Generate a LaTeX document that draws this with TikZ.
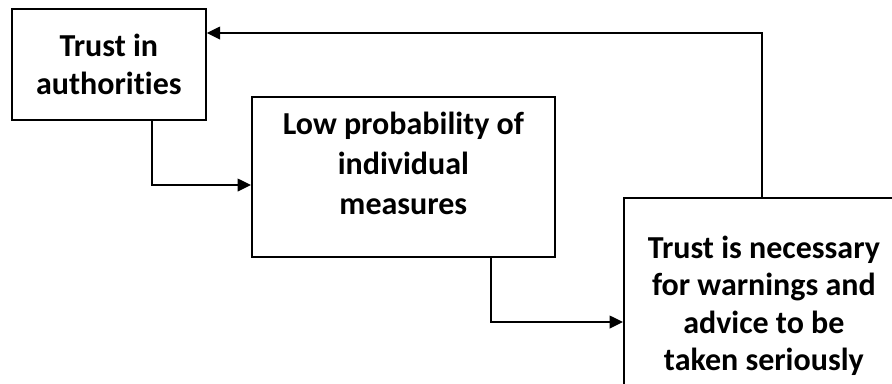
\documentclass[tikz,border=0pt]{standalone}
\usepackage{fontspec}
\setmainfont{Carlito}[Ligatures=NoCommon]
\usetikzlibrary{arrows.meta,positioning}

\begin{document}
\begin{tikzpicture}[x=0.75pt,y=-0.75pt,
            box/.style={draw,line width=1.3pt,anchor=north west,align=center,inner sep=0pt},
            every node/.style={font=\bfseries\fontsize{24}{28}\selectfont},
            to/.style={-{Triangle[length=10pt,width=9.5pt]},line width=1.1pt}
  ]
  \clip (0,0) rectangle (892,383);

  \node[box, minimum width=194*0.75pt, minimum height=111*0.75pt] (auth) at (11,8) {Trust in\\authorities};
  \node[box, minimum width=303*0.75pt, minimum height=160*0.75pt] (lowprob) at (251,96) {Low probability of\\[2pt]individual\\[2pt]measures\\[-8pt]};
  \node[box, minimum width=280*0.75pt, minimum height=216*0.75pt] (trust) at (623,197) {Trust is necessary\\for warnings and\\advice to be\\taken seriously};

  \coordinate (k1) at (152,185);
  \coordinate (k2) at (491,322);
  \coordinate (k3) at (762,33);

  \draw[to] (auth.south -| k1) |- (lowprob.west |- k1);
  \draw[to] (lowprob.south -| k2) |- (trust.west |- k2);
  \draw[to] (trust.north -| k3) |- (auth.east |- k3);

\end{tikzpicture}
\end{document}
